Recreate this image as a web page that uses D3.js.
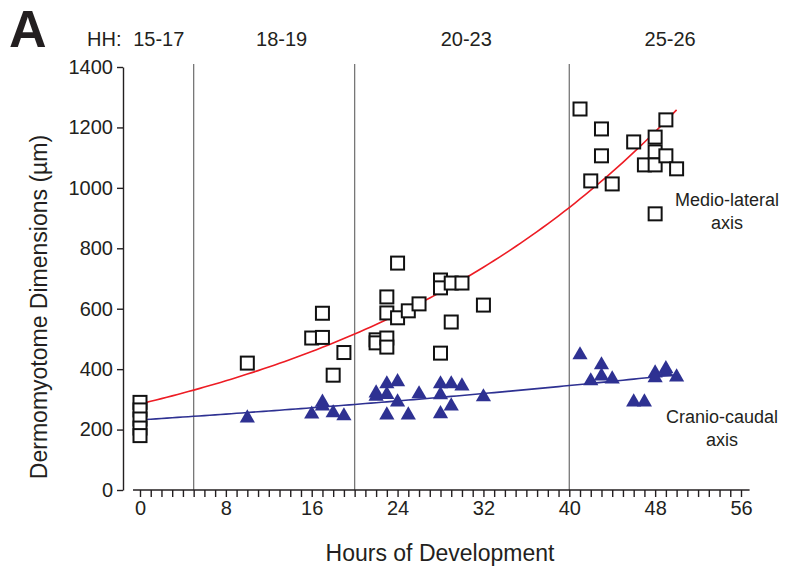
<!DOCTYPE html>
<meta charset="utf-8">
<style>
body { margin: 0; background: #fff; }
text { font-family: "Liberation Sans", Arial, sans-serif; fill: #231f20; }
.axis path, .axis line { stroke: #231f20; stroke-width: 1.4px; }
.axis text { font-size: 20px; fill: #231f20; }
.stage { stroke: #777; stroke-width: 1.3px; }
</style>
<script src="https://cdn.jsdelivr.net/npm/d3@7"></script>
<body>
<script>

// medio-lateral axis (open squares)
var mlHours  = [0, 0, 0, 0, 0, 10, 16, 17, 17, 18, 19, 22, 22, 23, 23, 23, 23, 24, 24, 25, 26,
                28, 28, 28, 29, 29, 30, 32, 41, 42, 43, 43, 44, 46, 47, 48, 48, 48, 48, 49, 49, 50];
var mlValues = [290, 265, 235, 205, 180, 420, 503, 585, 505, 380, 455, 497, 487, 639, 586, 503, 473, 751, 570, 593, 616,
                695, 669, 453, 685, 556, 685, 612, 1261, 1023, 1195, 1106, 1013, 1152, 1076, 1168, 1119, 1076, 914, 1225, 1106, 1063];

// cranio-caudal axis (filled triangles)
var ccHours  = [10, 16, 17, 17, 18, 19, 22, 22, 23, 23, 23, 24, 24, 25, 26, 28, 28, 28, 29, 29, 30, 32,
                41, 42, 43, 43, 44, 46, 47, 48, 48, 49, 49, 50];
var ccValues = [238, 251, 290, 278, 255, 245, 321, 310, 351, 316, 248, 358, 291, 248, 318, 351, 315, 252, 351, 278, 344, 308,
                447, 361, 414, 377, 367, 291, 291, 387, 371, 401, 390, 374];

// exponential trend lines: value = a * exp(b * hours)
var mlFit = [285, 0.0297];
var ccFit = [232, 0.00997];
var fitRange = [0, 50];

// HH stage boundaries and labels
var stageLines  = [5, 20, 40];
var stageLabels = ["15-17", "18-19", "20-23", "25-26"];
var stageLabelAt = [1.75, 13.2, 30.4, 49.4];

var xTicks = [0, 8, 16, 24, 32, 40, 48, 56];
var yTicks = [0, 200, 400, 600, 800, 1000, 1200, 1400];

var width = 797,
    height = 568;

var svg = d3.select("body").append("svg")
    .attr("width", width)
    .attr("height", height);

var x = d3.scaleLinear().domain([0, 56]).range([140, 741]);
var y = d3.scaleLinear().domain([0, 1400]).range([490, 67]);

// stage separators
svg.selectAll(".stage")
    .data(stageLines)
  .enter().append("line")
    .attr("class", "stage")
    .attr("x1", function(d) { return x(d); })
    .attr("x2", function(d) { return x(d); })
    .attr("y1", 64)
    .attr("y2", y(0));

// trend curves
function fitLine(p) {
  var pts = d3.range(fitRange[0], fitRange[1] + 0.01, 0.5).map(function(h) {
    return [h, p[0] * Math.exp(p[1] * h)];
  });
  return d3.line()
    .x(function(d) { return x(d[0]); })
    .y(function(d) { return y(d[1]); })(pts);
}

svg.append("path")
    .attr("d", fitLine(mlFit))
    .attr("fill", "none")
    .attr("stroke", "#ed1c24")
    .attr("stroke-width", 1.6);

svg.append("path")
    .attr("d", fitLine(ccFit))
    .attr("fill", "none")
    .attr("stroke", "#2e3192")
    .attr("stroke-width", 1.6);

// squares
svg.selectAll(".ml")
    .data(d3.range(mlHours.length))
  .enter().append("rect")
    .attr("class", "ml")
    .attr("x", function(i) { return x(mlHours[i]) - 6.5; })
    .attr("y", function(i) { return y(mlValues[i]) - 6.5; })
    .attr("width", 13)
    .attr("height", 13)
    .attr("fill", "#fff")
    .attr("stroke", "#111")
    .attr("stroke-width", 2);

// triangles
var tri = d3.symbol().type(d3.symbolTriangle).size(100);
svg.selectAll(".cc")
    .data(d3.range(ccHours.length))
  .enter().append("path")
    .attr("class", "cc")
    .attr("d", tri)
    .attr("transform", function(i) { return "translate(" + x(ccHours[i]) + "," + y(ccValues[i]) + ")"; })
    .attr("fill", "#2e3192");

// y axis
var yAxis = svg.append("g")
    .attr("class", "axis")
    .attr("transform", "translate(123,0)")
    .call(d3.axisLeft(y).tickValues(yTicks).tickFormat(d3.format("d"))
      .tickSize(6).tickSizeOuter(0).tickPadding(4));
yAxis.selectAll("text").attr("font-family", "Liberation Sans, Arial, sans-serif");

// x axis: ticks every hour, labels every 8
var xAxis = svg.append("g")
    .attr("class", "axis")
    .attr("transform", "translate(0," + y(0) + ")")
    .call(d3.axisBottom(x).tickValues(d3.range(0, 57)).tickSize(7).tickPadding(4)
      .tickFormat(function(d) { return xTicks.indexOf(d) >= 0 ? d : ""; }));
xAxis.select(".domain").remove();
xAxis.append("line")
    .attr("x1", x(-0.65))
    .attr("x2", x(56.8))
    .attr("stroke", "#231f20")
    .attr("stroke-width", 1.4);
xAxis.selectAll("text").attr("font-family", "Liberation Sans, Arial, sans-serif");

// titles
svg.append("text")
    .attr("transform", "translate(47,307) rotate(-90)")
    .attr("text-anchor", "middle")
    .style("font-size", "23px")
    .text("Dermomyotome Dimensions (µm)");

svg.append("text")
    .attr("x", 440)
    .attr("y", 561)
    .attr("text-anchor", "middle")
    .style("font-size", "23px")
    .text("Hours of Development");

svg.append("text")
    .attr("x", 9)
    .attr("y", 47)
    .style("font-size", "52px")
    .style("font-weight", "bold")
    .text("A");

svg.append("text")
    .attr("x", 87)
    .attr("y", 46)
    .style("font-size", "20px")
    .text("HH:");

svg.selectAll(".hh")
    .data(stageLabels)
  .enter().append("text")
    .attr("class", "hh")
    .attr("x", function(d, i) { return x(stageLabelAt[i]); })
    .attr("y", 46)
    .attr("text-anchor", "middle")
    .style("font-size", "20px")
    .text(function(d) { return d; });

// series labels
function label(lines, cx, cy) {
  var t = svg.append("text")
      .attr("text-anchor", "middle")
      .style("font-size", "18px");
  lines.forEach(function(s, i) {
    t.append("tspan").attr("x", cx).attr("y", cy + i * 23).text(s);
  });
}
label(["Medio-lateral", "axis"], 727, 206);
label(["Cranio-caudal", "axis"], 722, 423);

</script>
</body>
